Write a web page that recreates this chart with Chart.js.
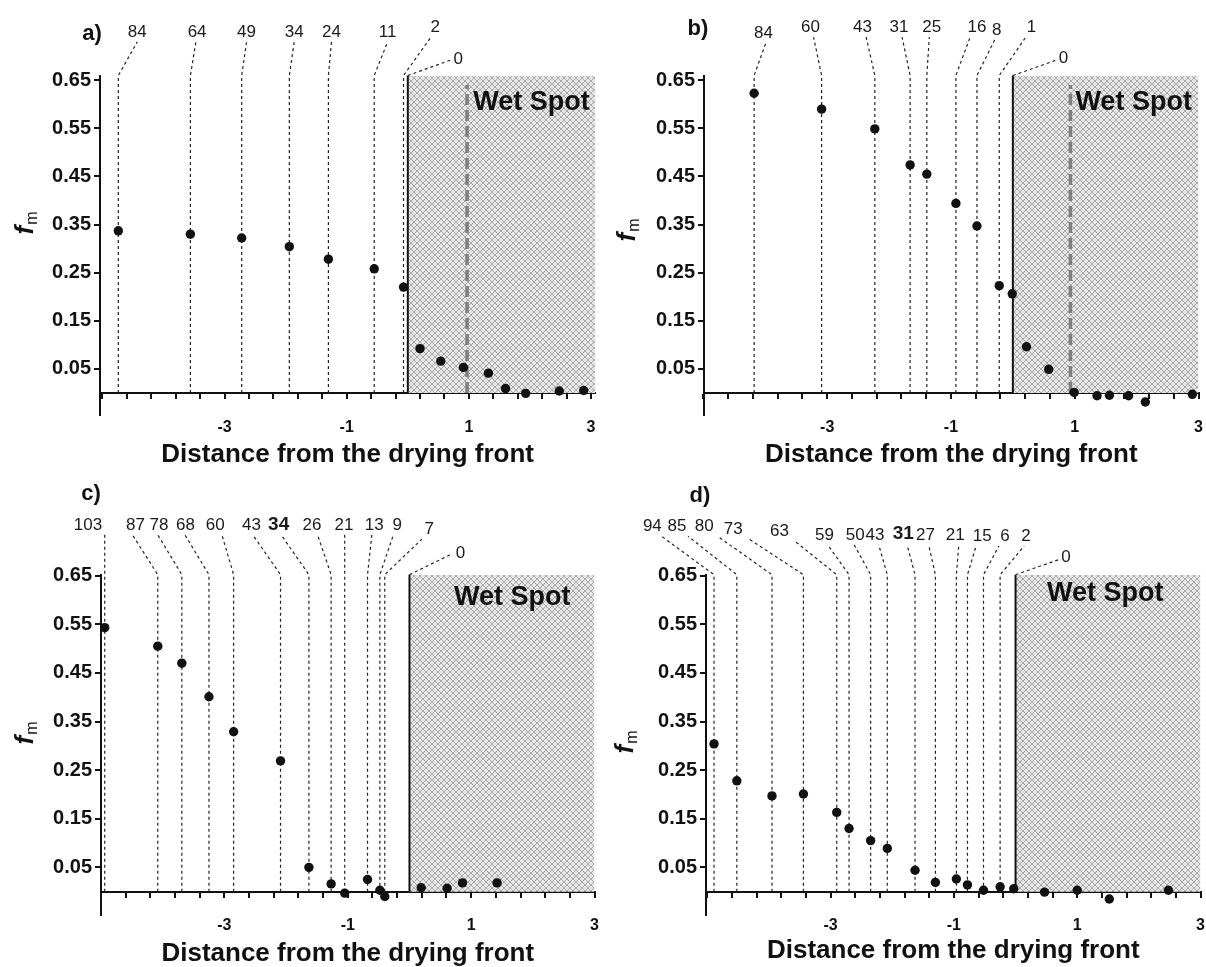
<!DOCTYPE html>
<html><head><meta charset="utf-8">
<script src="https://cdn.jsdelivr.net/npm/chart.js@4.4.0/dist/chart.umd.min.js"></script>
<style>
html,body{margin:0;padding:0;background:#fff;overflow:hidden;width:1206px;height:967px;}
canvas{position:absolute;display:block;}
</style></head><body>
<canvas id="pa" width="600" height="480" style="left:0;top:0"></canvas>
<canvas id="pb" width="606" height="480" style="left:600px;top:0"></canvas>
<canvas id="pc" width="600" height="487" style="left:0;top:480px"></canvas>
<canvas id="pd" width="606" height="487" style="left:600px;top:480px"></canvas>
<script>
// ---------- shared tick labels ----------
const xTickLabels = [-3, -1, 1, 3];
const xMinorTicks = [-5, -4.6, -4.2, -3.8, -3.4, -3, -2.6, -2.2, -1.8, -1.4, -1, -0.6, -0.2, 0.2, 0.6, 1, 1.4, 1.8, 2.2, 2.6, 3];
const yTickValues = [0.05, 0.15, 0.25, 0.35, 0.45, 0.55, 0.65];
const xTitle = 'Distance from the drying front';

// ---------- panel a ----------
const aDist = [-4.74, -3.56, -2.72, -1.94, -1.30, -0.55, -0.07, 0.20, 0.54, 0.91, 1.32, 1.60, 1.93, 2.48, 2.88];
const aFm = [0.337, 0.330, 0.322, 0.304, 0.278, 0.258, 0.220, 0.092, 0.066, 0.053, 0.041, 0.009, -0.001, 0.004, 0.005];
const aTags = ['84', '64', '49', '34', '24', '11', '2'];
const aTagEndX = [-4.43, -3.47, -2.64, -1.86, -1.25, -0.33, 0.38];
const aTagTextX = [-4.43, -3.45, -2.64, -1.86, -1.25, -0.33, 0.45];
const aTagEndY = [0.73, 0.73, 0.73, 0.73, 0.73, 0.73, 0.74];
const aZeroEnd = [0.70, 0.692];
const aZeroText = [0.75, 0.694];
const aWetLine = 0.97;

// ---------- panel b ----------
const bDist = [-4.18, -3.09, -2.23, -1.66, -1.39, -0.92, -0.58, -0.22, -0.01, 0.22, 0.58, 0.99, 1.36, 1.56, 1.87, 2.14, 2.90];
const bFm = [0.623, 0.590, 0.549, 0.474, 0.455, 0.394, 0.347, 0.223, 0.206, 0.096, 0.049, 0.001, -0.006, -0.005, -0.006, -0.019, -0.003];
const bTags = ['84', '60', '43', '31', '25', '16', '8', '1'];
const bTagEndX = [-3.99, -3.22, -2.37, -1.79, -1.35, -0.69, -0.29, 0.21];
const bTagTextX = [-4.03, -3.27, -2.43, -1.84, -1.31, -0.58, -0.26, 0.30];
const bTagEndY = [0.728, 0.74, 0.74, 0.74, 0.74, 0.74, 0.735, 0.74];
const bZeroEnd = [0.70, 0.692];
const bZeroText = [0.74, 0.696];
const bWetLine = 0.93;

// ---------- panel c ----------
const cDist = [-4.94, -4.08, -3.69, -3.25, -2.85, -2.09, -1.63, -1.27, -1.05, -0.68, -0.48, -0.40, 0.19, 0.61, 0.86, 1.42];
const cFm = [0.543, 0.505, 0.470, 0.401, 0.329, 0.269, 0.050, 0.016, -0.003, 0.025, 0.003, -0.010, 0.008, 0.007, 0.018, 0.018];
const cTags = ['103', '87', '78', '68', '60', '43', '34', '26', '21', '13', '9', '7'];
const cTagEndX = [-4.94, -4.49, -4.08, -3.64, -3.04, -2.54, -2.08, -1.49, -1.05, -0.61, -0.26, 0.20];
const cTagTextX = [-5.21, -4.44, -4.06, -3.63, -3.15, -2.56, -2.12, -1.58, -1.06, -0.57, -0.20, 0.32];
const cTagEndY = [0.734, 0.734, 0.734, 0.734, 0.734, 0.734, 0.734, 0.734, 0.734, 0.734, 0.734, 0.725];
const cBold = ['34'];
const cZeroEnd = [0.66, 0.693];
const cZeroText = [0.75, 0.697];

// ---------- panel d ----------
const dDist = [-4.89, -4.52, -3.95, -3.44, -2.90, -2.70, -2.35, -2.08, -1.63, -1.30, -0.96, -0.78, -0.52, -0.25, -0.03, 0.47, 1.00, 1.52, 2.48];
const dFm = [0.304, 0.228, 0.197, 0.201, 0.163, 0.130, 0.105, 0.089, 0.044, 0.019, 0.026, 0.014, 0.003, 0.010, 0.006, -0.001, 0.003, -0.015, 0.003];
const dTags = ['94', '85', '80', '73', '63', '59', '50', '43', '31', '27', '21', '15', '6', '2'];
const dTagEndX = [-5.74, -5.31, -4.83, -4.33, -3.58, -3.05, -2.62, -2.22, -1.76, -1.41, -0.92, -0.64, -0.27, 0.14];
const dTagTextX = [-5.89, -5.49, -5.05, -4.58, -3.83, -3.10, -2.60, -2.28, -1.82, -1.46, -0.98, -0.54, -0.17, 0.17];
const dTagEndY = [0.731, 0.731, 0.731, 0.726, 0.721, 0.714, 0.714, 0.714, 0.714, 0.714, 0.714, 0.711, 0.711, 0.711];
const dBold = ['31'];
const dZeroEnd = [0.70, 0.683];
const dZeroText = [0.74, 0.687];

const FONT = "'Liberation Sans', Arial, Helvetica, sans-serif";
Chart.defaults.font.family = FONT;
Chart.defaults.color = '#111';

function makeHatch() {
  const c = document.createElement('canvas');
  c.width = 6; c.height = 6;
  const g = c.getContext('2d');
  g.fillStyle = '#e6e6e6'; g.fillRect(0, 0, 6, 6);
  g.strokeStyle = '#a9a9a9'; g.lineWidth = 1;
  g.beginPath();
  g.moveTo(0, 0); g.lineTo(6, 6);
  g.moveTo(6, 0); g.lineTo(0, 6);
  g.stroke();
  return g.createPattern(c, 'repeat');
}
const hatch = makeHatch();

const panels = {
  pa: {xs: aDist, ys: aFm, tags: aTags, tagEndX: aTagEndX, tagTextX: aTagTextX, tagEndY: aTagEndY, bold: [],
       zeroEnd: aZeroEnd, zeroText: aZeroText, wetLine: aWetLine, wet: [1.07, 0.603], letter: 'a)', letterPos: [92, 34], fmPos: [25, 223],
       xMin: -5.04, xMax: 3.07, yMin: -0.046, yMax: 0.66, yw: 100, padRight: 3, padTop: 75.5, xh: 65, tickPad: 3, titlePad: 12},
  pb: {xs: bDist, ys: bFm, tags: bTags, tagEndX: bTagEndX, tagTextX: bTagTextX, tagEndY: bTagEndY, bold: [],
       zeroEnd: bZeroEnd, zeroText: bZeroText, wetLine: bWetLine, wet: [1.01, 0.603], letter: 'b)', letterPos: [98, 29], fmPos: [27, 230],
       xMin: -4.99, xMax: 3.0, yMin: -0.046, yMax: 0.66, yw: 104, padRight: 3, padTop: 75.5, xh: 65, tickPad: 3, titlePad: 12},
  pc: {xs: cDist, ys: cFm, tags: cTags, tagEndX: cTagEndX, tagTextX: cTagTextX, tagEndY: cTagEndY, bold: cBold,
       zeroEnd: cZeroEnd, zeroText: cZeroText, wetLine: null, wet: [0.72, 0.606], letter: 'c)', letterPos: [91, 14], fmPos: [25, 253],
       xMin: -5.0, xMax: 3.0, yMin: -0.048, yMax: 0.652, yw: 101, padRight: 1, padTop: 94.7, xh: 52, tickPad: 1, titlePad: 0},
  pd: {xs: dDist, ys: dFm, tags: dTags, tagEndX: dTagEndX, tagTextX: dTagTextX, tagEndY: dTagEndY, bold: dBold,
       zeroEnd: dZeroEnd, zeroText: dZeroText, wetLine: null, wet: [0.51, 0.614], letter: 'd)', letterPos: [100, 16], fmPos: [25, 262],
       xMin: -5.02, xMax: 3.0, yMin: -0.048, yMax: 0.652, yw: 106, padRight: 3, padTop: 94.7, xh: 52, tickPad: 1, titlePad: 3}
};

const annot = {
  id: 'annot',
  afterDatasetsDraw(chart) {
    const P = panels[chart.canvas.id];
    const ctx = chart.ctx, sx = chart.scales.x, sy = chart.scales.y;
    ctx.save();
    ctx.fillStyle = '#1a1a1a';
    ctx.textAlign = 'center';
    ctx.textBaseline = 'bottom';
    P.tags.forEach((t, i) => {
      const b = P.bold.includes(t);
      ctx.font = (b ? 'bold 19px ' : '17px ') + FONT;
      ctx.fillText(t, sx.getPixelForValue(P.tagTextX[i]), sy.getPixelForValue(P.tagEndY[i]) - 1);
    });
    ctx.font = '17px ' + FONT;
    ctx.textAlign = 'left'; ctx.textBaseline = 'middle';
    ctx.fillText('0', sx.getPixelForValue(P.zeroText[0]), sy.getPixelForValue(P.zeroText[1]));
    ctx.fillStyle = '#111';
    ctx.font = 'bold 27px ' + FONT;
    ctx.fillText('Wet Spot', sx.getPixelForValue(P.wet[0]), sy.getPixelForValue(P.wet[1]));
    ctx.font = 'bold 22px ' + FONT;
    ctx.textAlign = 'center';
    ctx.fillText(P.letter, P.letterPos[0], P.letterPos[1]);
    // y title f_m
    ctx.translate(P.fmPos[0], P.fmPos[1]);
    ctx.rotate(-Math.PI / 2);
    ctx.textAlign = 'left'; ctx.textBaseline = 'alphabetic';
    ctx.font = 'italic bold 26px ' + FONT;
    const fw = ctx.measureText('f').width;
    ctx.font = '16px ' + FONT;
    const mw = ctx.measureText('m').width;
    const tot = fw + mw + 1;
    ctx.font = 'italic bold 26px ' + FONT;
    ctx.fillText('f', -tot / 2, 8);
    ctx.font = '16px ' + FONT;
    ctx.fillText('m', -tot / 2 + fw + 1, 12);
    ctx.restore();
  }
};

function leaderData(P) {
  const d = [];
  P.tags.forEach((t, i) => {
    d.push({x: P.xs[i], y: 0}, {x: P.xs[i], y: P.yMax}, {x: P.tagEndX[i], y: P.tagEndY[i]}, {x: P.tagEndX[i], y: null});
  });
  d.push({x: 0, y: P.yMax}, {x: P.zeroEnd[0], y: P.zeroEnd[1]});
  return d;
}

function build(id) {
  const P = panels[id];
  const datasets = [
    {type: 'scatter', data: P.xs.map((x, i) => ({x: x, y: P.ys[i]})), pointRadius: 4.7, pointBackgroundColor: '#111',
     pointBorderWidth: 0, borderWidth: 0, order: 0, clip: false},
    {type: 'line', data: leaderData(P), borderColor: '#222', borderWidth: 1.2, borderDash: [3, 3], pointRadius: 0,
     fill: false, spanGaps: false, tension: 0, order: 1, clip: false},
    {type: 'line', data: [{x: 0, y: 0}, {x: 0, y: P.yMax}], borderColor: '#111', borderWidth: 2, pointRadius: 0,
     fill: false, order: 2, clip: false},
    {type: 'line', data: [{x: 0, y: P.yMax}, {x: P.xMax, y: P.yMax}], borderWidth: 0, borderColor: 'rgba(0,0,0,0)',
     backgroundColor: hatch, fill: 'origin', pointRadius: 0, order: 5, clip: false}
  ];
  if (P.wetLine !== null) {
    datasets.push({type: 'line', data: [{x: P.wetLine, y: 0}, {x: P.wetLine, y: P.yMax - 0.02}], borderColor: '#7f7f7f',
      borderWidth: 3.5, borderDash: [11, 5], pointRadius: 0, fill: false, order: 3, clip: false});
  }
  new Chart(document.getElementById(id), {
    data: {datasets: datasets},
    plugins: [annot],
    options: {
      responsive: false, animation: false, events: [],
      layout: {padding: {left: 0, top: P.padTop, right: P.padRight, bottom: 0}},
      plugins: {legend: {display: false}, tooltip: {enabled: false}},
      scales: {
        x: {
          type: 'linear', position: 'bottom', min: P.xMin, max: P.xMax,
          afterBuildTicks: s => { s.ticks = xTickLabels.map(v => ({value: v})); },
          afterFit: s => { s.height = P.xh; },
          ticks: {font: {size: 16, weight: 'bold'}, color: '#111', padding: P.tickPad, maxRotation: 0, autoSkip: false,
                  callback: v => String(v)},
          grid: {display: false, drawTicks: false},
          border: {display: false},
          title: {display: true, text: xTitle, color: '#111', font: {size: 26, weight: 'bold', lineHeight: 1},
                  padding: {top: 0, bottom: P.titlePad}}
        },
        x0: {
          type: 'linear', axis: 'x', position: {y: 0}, min: P.xMin, max: P.xMax, z: 1,
          afterBuildTicks: s => { s.ticks = xMinorTicks.map(v => ({value: v})); },
          ticks: {display: false},
          grid: {display: true, drawOnChartArea: false, drawTicks: true, tickLength: 5, color: '#111', lineWidth: 2},
          border: {display: true, color: '#111', width: 2}
        },
        y: {
          type: 'linear', position: 'left', min: P.yMin, max: P.yMax,
          afterBuildTicks: s => { s.ticks = yTickValues.map(v => ({value: v})); },
          afterFit: s => { s.width = P.yw; },
          ticks: {font: {size: 20, weight: 'bold'}, color: '#111', padding: 3, callback: v => Number(v).toFixed(2)},
          grid: {display: true, drawOnChartArea: false, drawTicks: true, tickLength: 6, color: '#111', lineWidth: 2},
          border: {display: true, color: '#111', width: 2}
        }
      }
    }
  });
}
['pa', 'pb', 'pc', 'pd'].forEach(build);
</script>
</body></html>
